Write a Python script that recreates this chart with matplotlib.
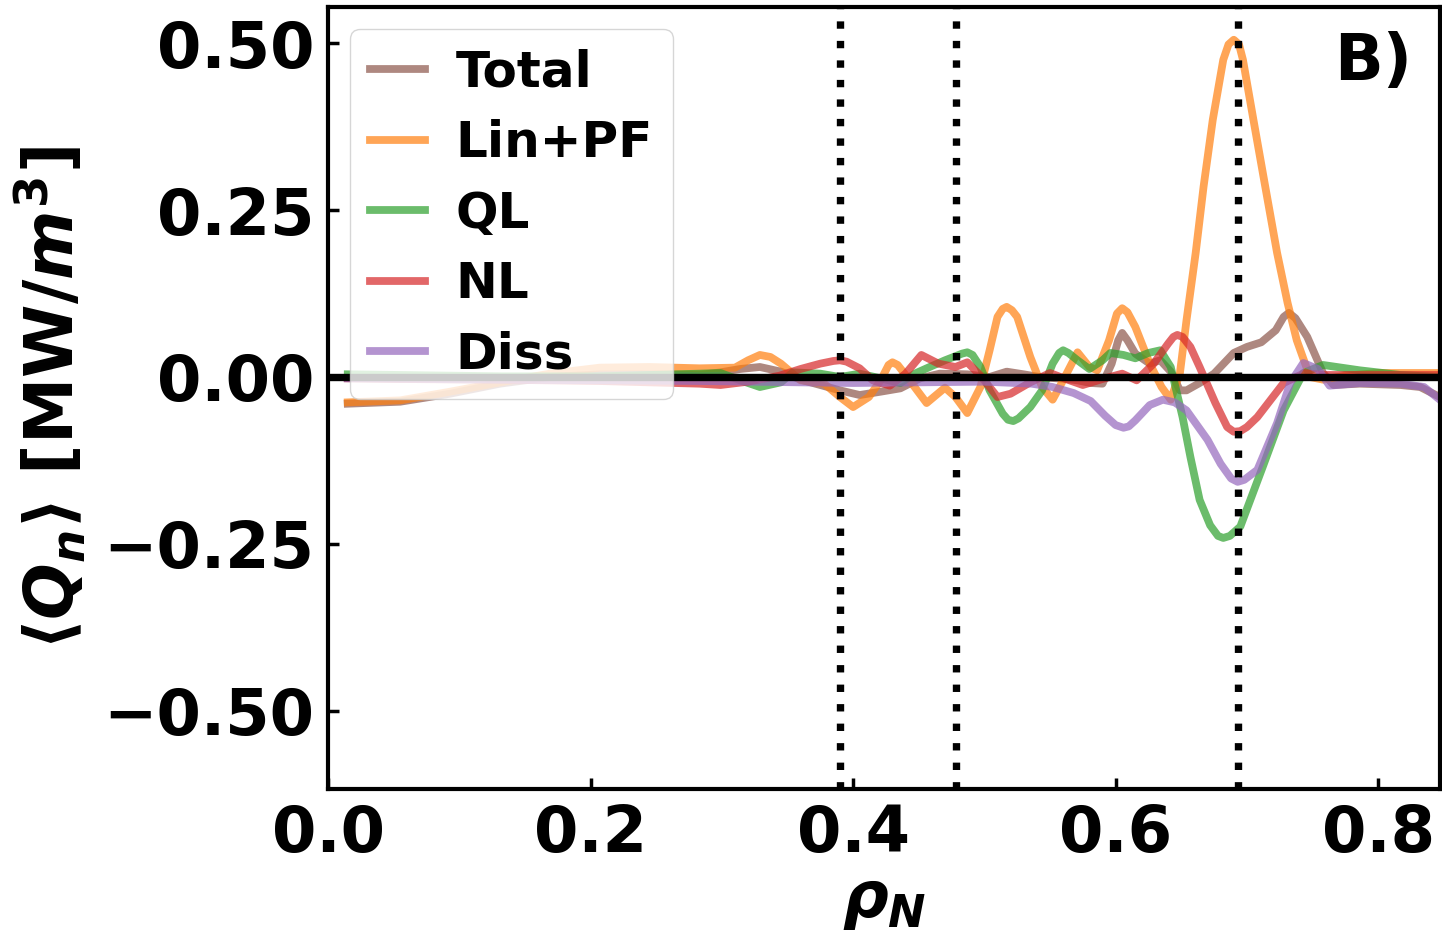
import matplotlib
matplotlib.use("Agg")
import matplotlib.pyplot as plt
import numpy as np

plt.rcParams['font.family'] = ['DejaVu Sans']
plt.rcParams['font.weight'] = 'bold'
plt.rcParams['mathtext.fontset'] = 'custom'
plt.rcParams['mathtext.it'] = 'DejaVu Sans:italic:bold'
plt.rcParams['mathtext.rm'] = 'DejaVu Sans:bold'
plt.rcParams['mathtext.bf'] = 'DejaVu Sans:bold'

# Total
x_tot = [0.015, 0.055, 0.093, 0.131, 0.169, 0.207, 0.245, 0.283, 0.299, 0.314, 0.329, 0.345,
         0.360, 0.375, 0.390, 0.405, 0.421, 0.436, 0.451, 0.466, 0.487, 0.504, 0.517, 0.530,
         0.542, 0.562, 0.571, 0.581, 0.590, 0.597, 0.602, 0.605, 0.609, 0.615, 0.626, 0.634,
         0.642, 0.649, 0.654, 0.664, 0.675, 0.690, 0.700, 0.711, 0.722, 0.728, 0.732, 0.737,
         0.746, 0.758, 0.766, 0.786, 0.817, 0.832, 0.847]
q_tot = [-0.040, -0.037, -0.025, -0.010, 0.000, 0.004, 0.004, 0.003, 0.007, 0.012, 0.015, 0.008,
         -0.004, -0.012, -0.020, -0.027, -0.022, -0.017, -0.002, 0.005, 0.004, 0.000, 0.008, 0.004,
         0.000, -0.003, -0.005, -0.009, -0.010, 0.020, 0.055, 0.066, 0.055, 0.035, 0.020, 0.025,
         0.008, -0.020, -0.020, -0.009, 0.005, 0.036, 0.045, 0.052, 0.070, 0.090, 0.096, 0.088,
         0.060, 0.006, -0.012, -0.010, -0.012, -0.015, -0.030]

# Lin+PF
x_lin = [0.015, 0.055, 0.093, 0.131, 0.169, 0.207, 0.245, 0.283, 0.310, 0.320, 0.329, 0.337,
         0.345, 0.360, 0.378, 0.390, 0.400, 0.412, 0.421, 0.427, 0.430, 0.434, 0.440, 0.456,
         0.470, 0.478, 0.487, 0.497, 0.504, 0.510, 0.514, 0.517, 0.521, 0.525, 0.535, 0.544,
         0.552, 0.560, 0.571, 0.580, 0.586, 0.595, 0.601, 0.605, 0.609, 0.615, 0.626, 0.635,
         0.642, 0.649, 0.654, 0.661, 0.667, 0.674, 0.682, 0.686, 0.690, 0.694, 0.697, 0.705,
         0.714, 0.723, 0.731, 0.738, 0.748, 0.758, 0.775, 0.800, 0.847]
q_lin = [-0.038, -0.035, -0.022, -0.008, 0.005, 0.014, 0.015, 0.013, 0.014, 0.025, 0.033, 0.030,
         0.020, -0.005, -0.010, -0.030, -0.045, -0.030, -0.005, 0.018, 0.022, 0.018, 0.003, -0.039,
         -0.016, -0.030, -0.054, -0.015, 0.040, 0.090, 0.102, 0.105, 0.100, 0.090, 0.030, -0.015,
         -0.034, -0.005, 0.037, 0.015, 0.010, 0.055, 0.095, 0.103, 0.097, 0.075, 0.020, -0.015,
         -0.034, 0.006, 0.085, 0.186, 0.285, 0.385, 0.475, 0.498, 0.505, 0.498, 0.475, 0.385,
         0.285, 0.186, 0.111, 0.055, 0.000, -0.004, 0.002, 0.006, 0.006]

# QL
x_ql = [0.015, 0.055, 0.131, 0.207, 0.245, 0.283, 0.299, 0.314, 0.329, 0.345, 0.354, 0.375,
        0.390, 0.405, 0.421, 0.436, 0.447, 0.456, 0.470, 0.483, 0.487, 0.491, 0.497, 0.504,
        0.514, 0.518, 0.522, 0.526, 0.535, 0.544, 0.552, 0.557, 0.560, 0.564, 0.571, 0.580,
        0.590, 0.596, 0.606, 0.615, 0.625, 0.634, 0.642, 0.651, 0.657, 0.664, 0.672, 0.678,
        0.682, 0.687, 0.695, 0.712, 0.728, 0.743, 0.758, 0.786, 0.817, 0.847]
q_ql = [0.004, 0.003, 0.001, 0.001, 0.003, 0.005, 0.006, -0.005, -0.015, -0.008, 0.007, 0.005,
        0.000, 0.005, -0.002, -0.009, 0.005, 0.013, 0.025, 0.035, 0.037, 0.033, 0.015, -0.020,
        -0.055, -0.064, -0.066, -0.062, -0.045, -0.020, 0.020, 0.036, 0.040, 0.036, 0.025, 0.012,
        0.025, 0.036, 0.033, 0.028, 0.036, 0.040, 0.015, -0.060, -0.120, -0.184, -0.222, -0.238,
        -0.241, -0.238, -0.224, -0.135, -0.050, 0.006, 0.018, 0.010, 0.003, 0.000]

# NL
x_nl = [0.015, 0.055, 0.131, 0.207, 0.245, 0.283, 0.299, 0.320, 0.344, 0.360, 0.375, 0.385,
        0.390, 0.395, 0.405, 0.415, 0.428, 0.440, 0.452, 0.465, 0.478, 0.487, 0.497, 0.510,
        0.520, 0.535, 0.550, 0.562, 0.575, 0.590, 0.605, 0.616, 0.629, 0.640, 0.644, 0.647,
        0.651, 0.657, 0.664, 0.676, 0.685, 0.690, 0.695, 0.700, 0.708, 0.728, 0.744, 0.758,
        0.800, 0.847]
q_nl = [-0.002, -0.003, -0.004, -0.006, -0.008, -0.010, -0.012, -0.007, 0.002, 0.012, 0.020, 0.024,
        0.025, 0.023, 0.013, -0.005, -0.013, 0.005, 0.033, 0.020, 0.015, 0.022, 0.002, -0.030,
        -0.025, -0.008, 0.006, -0.003, -0.012, -0.003, 0.005, -0.005, 0.020, 0.050, 0.060, 0.063,
        0.060, 0.045, 0.015, -0.039, -0.075, -0.082, -0.081, -0.075, -0.060, -0.009, 0.006, 0.003,
        0.003, 0.003]

# Diss
x_dis = [0.015, 0.131, 0.207, 0.283, 0.360, 0.400, 0.450, 0.500, 0.536, 0.552, 0.568, 0.581,
         0.592, 0.600, 0.606, 0.610, 0.615, 0.626, 0.636, 0.645, 0.654, 0.670, 0.680, 0.688,
         0.693, 0.698, 0.708, 0.723, 0.733, 0.743, 0.754, 0.763, 0.786, 0.817, 0.835, 0.847]
q_dis = [-0.002, -0.004, -0.005, -0.006, -0.008, -0.009, -0.008, -0.007, -0.010, -0.015, -0.024, -0.036,
         -0.058, -0.072, -0.076, -0.074, -0.065, -0.042, -0.034, -0.038, -0.050, -0.094, -0.130, -0.152,
         -0.157, -0.154, -0.139, -0.069, -0.009, 0.021, 0.012, -0.013, -0.009, -0.010, -0.015, -0.034]

vlines = [0.39, 0.4785, 0.693]

fig = plt.figure(figsize=(14.42, 9.36), dpi=100)
ax = fig.add_axes([0.2275, 0.157, 0.771, 0.8355])

ax.plot(x_tot, q_tot, color='tab:brown', lw=5.6, alpha=0.7, label='Total')
ax.plot(x_lin, q_lin, color='tab:orange', lw=5.6, alpha=0.7, label='Lin+PF')
ax.plot(x_ql, q_ql, color='tab:green', lw=5.6, alpha=0.7, label='QL')
ax.plot(x_nl, q_nl, color='tab:red', lw=5.6, alpha=0.7, label='NL')
ax.plot(x_dis, q_dis, color='tab:purple', lw=5.6, alpha=0.7, label='Diss')

ax.axhline(0, color='k', lw=5.3)
for v in vlines:
    ax.axvline(v, color='k', ls=':', lw=5.3)

ax.set_xlim(0, 0.847)
ax.set_ylim(-0.617, 0.554)
ax.set_yticks([-0.5, -0.25, 0, 0.25, 0.5])
ax.set_xticks([0.0, 0.2, 0.4, 0.6, 0.8])
ax.tick_params(direction='in', length=8, width=2.5, labelsize=46, pad=10)
for s in ax.spines.values():
    s.set_linewidth(3)

ax.set_xlabel(r'$\rho_N$', fontsize=46)
ax.set_ylabel(r'$\langle Q_n \rangle$ [MW/$m^3$]', fontsize=48, fontweight='bold')
ax.yaxis.set_label_coords(-0.216, 0.5)
ax.text(0.975, 0.93, 'B)', transform=ax.transAxes, fontsize=46, fontweight='bold',
        ha='right', va='center')

ax.legend(loc='upper left', fontsize=36, handlelength=1.1, handletextpad=0.62,
          labelspacing=0.45, borderaxespad=0.43)

fig.savefig('out.png', dpi=100)
